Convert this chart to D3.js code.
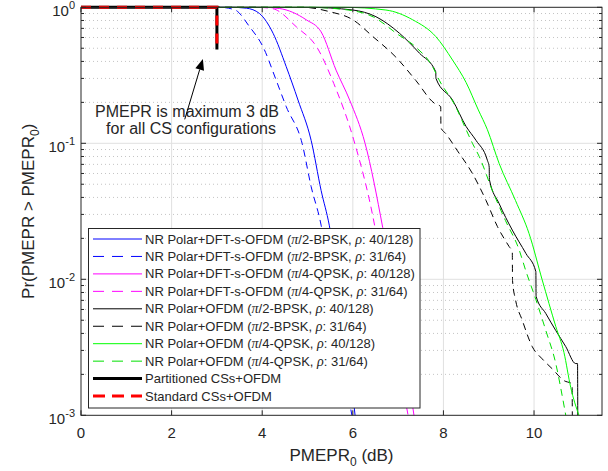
<!DOCTYPE html>
<html>
<head>
<meta charset="utf-8">
<script src="https://cdn.jsdelivr.net/npm/d3@7"></script>
<style>
  body { margin: 0; background: #fff; }
  svg text { font-family: "Liberation Sans", Arial, sans-serif; fill: #262626; }
</style>
</head>
<body>
<svg id="chart" width="608" height="471"></svg>
<script>
// CCDF of PMEPR (x in dB, y = probability)
const dftBpsk40X = [0, 3.3, 3.65, 3.94, 4.24, 4.53, 4.79, 5.08, 5.30, 5.48, 5.70, 5.90, 6.05];
const dftBpsk40Y = [1, 1, 0.985, 0.90, 0.644, 0.366, 0.208, 0.105, 0.045, 0.025, 0.0085, 0.0027, 0.001];

const dftBpsk31X = [0, 3.05, 3.39, 3.72, 4.02, 4.31, 4.53, 4.88, 5.08, 5.30, 5.52, 5.75, 5.98];
const dftBpsk31Y = [1, 1, 0.96, 0.72, 0.51, 0.29, 0.186, 0.10, 0.048, 0.025, 0.0085, 0.0027, 0.001];

const dftQpsk40X = [0, 4.0, 4.38, 4.97, 5.30, 5.63, 5.93, 6.27, 6.66, 6.90, 7.15, 7.35];
const dftQpsk40Y = [1, 1, 0.98, 0.81, 0.66, 0.345, 0.208, 0.10, 0.024, 0.0085, 0.0027, 0.001];

const dftQpsk31X = [0, 3.9, 4.24, 4.75, 5.22, 5.58, 6.02, 6.48, 6.72, 6.98, 7.22];
const dftQpsk31Y = [1, 1, 0.975, 0.72, 0.50, 0.275, 0.106, 0.025, 0.0085, 0.0027, 0.001];

const ofdmBpsk40X = [0, 5.0, 6.0, 6.51, 7.03, 7.47, 7.83, 7.835, 8.2, 8.5, 8.72, 8.97, 9.01, 9.015, 9.23, 9.52, 9.82, 10.04, 10.045, 10.26, 10.48, 10.70, 10.92, 10.96, 10.965];
const ofdmBpsk40Y = [1, 1, 0.955, 0.853, 0.644, 0.46, 0.336, 0.30, 0.208, 0.133, 0.105, 0.075, 0.067, 0.054, 0.036, 0.023, 0.0155, 0.0114, 0.0075, 0.0056, 0.0042, 0.0032, 0.0024, 0.0024, 0.001];

const ofdmBpsk31X = [0, 4.9, 5.48, 6.0, 6.44, 6.95, 7.39, 7.80, 7.94, 7.945, 8.05, 8.3, 8.64, 8.94, 9.19, 9.45, 9.52, 9.525, 9.59, 9.74, 9.96, 10.18, 10.40, 10.66, 10.84, 10.845];
const ofdmBpsk31Y = [1, 1, 0.93, 0.81, 0.61, 0.43, 0.29, 0.197, 0.186, 0.13, 0.118, 0.089, 0.060, 0.038, 0.0245, 0.0174, 0.016, 0.0098, 0.0071, 0.005, 0.0032, 0.0026, 0.0022, 0.0018, 0.0017, 0.001];

const ofdmQpsk40X = [0, 5.8, 6.73, 7.32, 7.83, 8.2, 8.5, 8.77, 8.97, 9.23, 9.59, 9.89, 10.18, 10.48, 10.66, 10.81, 10.99];
const ofdmQpsk40Y = [1, 1, 0.955, 0.81, 0.61, 0.41, 0.28, 0.176, 0.126, 0.071, 0.038, 0.0217, 0.0099, 0.0045, 0.0029, 0.0016, 0.001];

const ofdmQpsk31X = [0, 5.0, 5.9, 6.45, 7.0, 7.39, 7.76, 7.91, 8.27, 8.50, 8.64, 8.79, 9.08, 9.37, 9.67, 9.82, 10.04, 10.26, 10.48, 10.62, 10.70];
const ofdmQpsk31Y = [1, 1, 0.955, 0.85, 0.63, 0.51, 0.366, 0.29, 0.186, 0.126, 0.10, 0.08, 0.045, 0.027, 0.0165, 0.0115, 0.0071, 0.0042, 0.0024, 0.0014, 0.001];

const partitionedX = [0, 3, 3];
const partitionedY = [1, 1, 0.49];

const standardX = [0, 3, 3];
const standardY = [1, 1, 0.49];

const legendNames = [
  "NR Polar+DFT-s-OFDM (\u03c0/2-BPSK, \u03c1: 40/128)",
  "NR Polar+DFT-s-OFDM (\u03c0/2-BPSK, \u03c1: 31/64)",
  "NR Polar+DFT-s-OFDM (\u03c0/4-QPSK, \u03c1: 40/128)",
  "NR Polar+DFT-s-OFDM (\u03c0/4-QPSK, \u03c1: 31/64)",
  "NR Polar+OFDM (\u03c0/2-BPSK, \u03c1: 40/128)",
  "NR Polar+OFDM (\u03c0/2-BPSK, \u03c1: 31/64)",
  "NR Polar+OFDM (\u03c0/4-QPSK, \u03c1: 40/128)",
  "NR Polar+OFDM (\u03c0/4-QPSK, \u03c1: 31/64)",
  "Partitioned CSs+OFDM",
  "Standard CSs+OFDM",
];

const xTicks = [0, 2, 4, 6, 8, 10];
const yDecades = [-3, -2, -1, 0];

// line styles, same order as legendNames
const styles = [
  { color: "#0000ff", width: 1, dash: null },
  { color: "#0000ff", width: 1, dash: "7,5" },
  { color: "#ff00ff", width: 1, dash: null },
  { color: "#ff00ff", width: 1, dash: "7,5" },
  { color: "#000000", width: 1, dash: null },
  { color: "#000000", width: 1, dash: "7,5" },
  { color: "#00ff00", width: 1, dash: null },
  { color: "#00e000", width: 1, dash: "7,5" },
  { color: "#000000", width: 3, dash: null },
  { color: "#ff0000", width: 3, dash: "10,8" },
];

const seriesX = [dftBpsk40X, dftBpsk31X, dftQpsk40X, dftQpsk31X, ofdmBpsk40X, ofdmBpsk31X, ofdmQpsk40X, ofdmQpsk31X, partitionedX, standardX];
const seriesY = [dftBpsk40Y, dftBpsk31Y, dftQpsk40Y, dftQpsk31Y, ofdmBpsk40Y, ofdmBpsk31Y, ofdmQpsk40Y, ofdmQpsk31Y, partitionedY, standardY];

const svg = d3.select("#chart");
const L = 81, R = 602, T = 7.3, B = 415.3;

const x = d3.scaleLinear().domain([0, 11.5]).range([L, R]);
const y = d3.scaleLog().domain([1e-3, 1]).range([B, T]);

const axisColor = "#262626";

// grid
const grid = svg.append("g");
const allY = y.ticks();
const isMajor = (v) => Math.abs(Math.log10(v) - Math.round(Math.log10(v))) < 1e-9;

grid.selectAll(".minor")
  .data(allY.filter((v) => !isMajor(v)))
  .enter()
  .append("line")
  .attr("x1", L).attr("x2", R)
  .attr("y1", (d) => y(d)).attr("y2", (d) => y(d))
  .attr("stroke", "#c4c4c4")
  .attr("stroke-width", 1)
  .attr("stroke-dasharray", "1,3");

grid.selectAll(".majY")
  .data(yDecades.slice(1, -1))
  .enter()
  .append("line")
  .attr("x1", L).attr("x2", R)
  .attr("y1", (d) => y(Math.pow(10, d))).attr("y2", (d) => y(Math.pow(10, d)))
  .attr("stroke", "#e0e0e0")
  .attr("stroke-width", 1);

grid.selectAll(".majX")
  .data(xTicks.slice(1))
  .enter()
  .append("line")
  .attr("x1", (d) => x(d)).attr("x2", (d) => x(d))
  .attr("y1", T).attr("y2", B)
  .attr("stroke", "#e0e0e0")
  .attr("stroke-width", 1);

// curves
const line = d3.line()
  .x((d) => x(d[0]))
  .y((d) => y(d[1]));

const curves = svg.append("g");
seriesX.forEach(function (xs, i) {
  const pts = xs.map((v, j) => [v, seriesY[i][j]]);
  const st = styles[i];
  line.curve(i >= 8 ? d3.curveLinear : d3.curveMonotoneX);
  curves.append("path")
    .datum(pts)
    .attr("d", line(pts))
    .attr("fill", "none")
    .attr("stroke", st.color)
    .attr("stroke-width", st.width)
    .attr("stroke-dasharray", st.dash);
});

// frame + ticks
const ax = svg.append("g").attr("stroke", axisColor).attr("stroke-width", 1);
ax.append("rect")
  .attr("x", L).attr("y", T)
  .attr("width", R - L).attr("height", B - T)
  .attr("fill", "none");

xTicks.forEach(function (t) {
  ax.append("line").attr("x1", x(t)).attr("x2", x(t)).attr("y1", B).attr("y2", B - 5);
  ax.append("line").attr("x1", x(t)).attr("x2", x(t)).attr("y1", T).attr("y2", T + 5);
});
allY.forEach(function (v) {
  const len = isMajor(v) ? 5 : 3;
  ax.append("line").attr("x1", L).attr("x2", L + len).attr("y1", y(v)).attr("y2", y(v));
  ax.append("line").attr("x1", R).attr("x2", R - len).attr("y1", y(v)).attr("y2", y(v));
});

// tick labels
svg.selectAll(".xl")
  .data(xTicks)
  .enter()
  .append("text")
  .attr("x", (d) => x(d))
  .attr("y", 438)
  .attr("text-anchor", "middle")
  .attr("font-size", 15)
  .text((d) => d);

yDecades.forEach(function (k) {
  const t = svg.append("text")
    .attr("x", 75)
    .attr("y", y(Math.pow(10, k)) + 8.5)
    .attr("text-anchor", "end")
    .attr("font-size", 15);
  t.append("tspan").text("10");
  t.append("tspan").attr("dy", -6.5).attr("font-size", 11).text(k);
});

// axis labels
const xl = svg.append("text")
  .attr("x", (L + R) / 2)
  .attr("y", 461)
  .attr("text-anchor", "middle")
  .attr("font-size", 17);
xl.append("tspan").text("PMEPR");
xl.append("tspan").attr("dy", 5).attr("font-size", 12).text("0");
xl.append("tspan").attr("dy", -5).text(" (dB)");

const yl = svg.append("text")
  .attr("transform", "translate(34," + (T + B) / 2 + ") rotate(-90)")
  .attr("text-anchor", "middle")
  .attr("font-size", 17);
yl.append("tspan").text("Pr(PMEPR > PMEPR");
yl.append("tspan").attr("dy", 5).attr("font-size", 12).text("0");
yl.append("tspan").attr("dy", -5).text(")");

// annotation
const ann = svg.append("text").attr("text-anchor", "middle").attr("font-size", 16).attr("fill", "#000");
ann.append("tspan").attr("x", 187).attr("y", 117).text("PMEPR is maximum 3 dB");
ann.append("tspan").attr("x", 191).attr("y", 134).text("for all CS configurations");

const tail = [x(2.29), y(0.15)];
const tip = [x(2.69), y(0.417)];
const dx = tip[0] - tail[0], dy = tip[1] - tail[1];
const len = Math.sqrt(dx * dx + dy * dy);
const ux = dx / len, uy = dy / len;
const hl = 11, hw = 4.5;
const bx = tip[0] - hl * ux, by = tip[1] - hl * uy;
svg.append("line")
  .attr("x1", tail[0]).attr("y1", tail[1])
  .attr("x2", bx).attr("y2", by)
  .attr("stroke", "#000").attr("stroke-width", 1);
svg.append("polygon")
  .attr("points", [
    [tip[0], tip[1]],
    [bx - hw * uy, by + hw * ux],
    [bx + hw * uy, by - hw * ux],
  ].map((p) => p.join(",")).join(" "))
  .attr("fill", "#000");

// legend
const lg = svg.append("g");
lg.append("rect")
  .attr("x", 88.5).attr("y", 228.5)
  .attr("width", 331.5).attr("height", 179.5)
  .attr("fill", "#fff")
  .attr("stroke", axisColor)
  .attr("stroke-width", 1);

legendNames.forEach(function (name, i) {
  const cy = 239 + i * 17.45;
  const st = styles[i];
  lg.append("line")
    .attr("x1", 93).attr("x2", 142)
    .attr("y1", cy).attr("y2", cy)
    .attr("stroke", st.color)
    .attr("stroke-width", st.width)
    .attr("stroke-dasharray", st.dash ? (st.width > 1 ? "12,7" : "11,8") : null);
  const t = lg.append("text")
    .attr("x", 145)
    .attr("y", cy + 4.5)
    .attr("font-size", 13)
    .attr("fill", "#000");
  // greek letters in italic serif like the original
  name.split(/([\u03c0\u03c1])/).forEach(function (part) {
    if (part === "\u03c0" || part === "\u03c1") {
      t.append("tspan")
        .attr("font-family", "'Liberation Serif', 'Times New Roman', serif")
        .attr("font-style", "italic")
        .attr("font-size", 14)
        .text(part);
    } else if (part.length) {
      t.append("tspan").text(part);
    }
  });
});
</script>
</body>
</html>
